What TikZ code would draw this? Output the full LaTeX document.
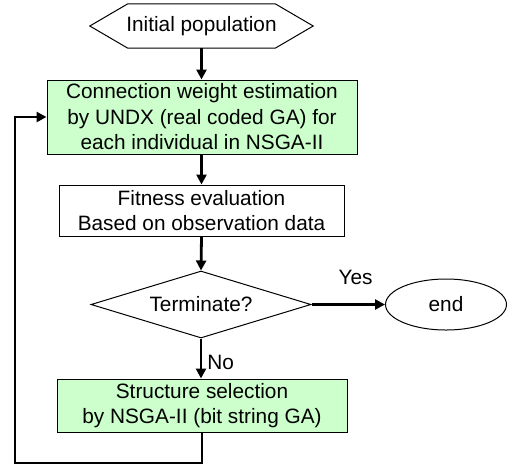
\documentclass[tikz,border=0pt]{standalone}
\usepackage{fontspec}
\setmainfont{Liberation Sans}
\usetikzlibrary{arrows.meta,shapes.geometric}
\definecolor{boxgreen}{HTML}{CCFFCC}
\begin{document}
\begin{tikzpicture}[x=1pt,y=-1pt,
  every node/.style={font=\fontsize{20.8}{25.5}\selectfont, inner sep=0pt, align=center},
  proc/.style={draw, line width=1pt, rectangle},
  greenbox/.style={proc, fill=boxgreen},
  flow/.style={line width=2.8pt, -{Triangle[length=10pt,width=10pt]}}]
\useasboundingbox (0,0) rectangle (508,467);
% nodes
\node (init) at (201.5,26) [minimum width=223pt, minimum height=44pt] {Initial population};
\draw[line width=1pt] (init.west) -- ([xshift=38pt]init.north west) -- ([xshift=-38pt]init.north east) -- (init.east) -- ([xshift=-38pt]init.south east) -- ([xshift=38pt]init.south west) -- cycle;
\node[greenbox, minimum width=310pt, minimum height=74pt] (cw) at (202,117) {Connection weight estimation\\by UNDX (real coded GA) for\\each individual in NSGA-II};
\node[proc, minimum width=285pt, minimum height=51pt] (fit) at (201.5,210.5) {Fitness evaluation\\Based on observation data};
\node[draw, line width=1pt, diamond, aspect=3.28, minimum width=220pt, minimum height=67pt, inner sep=0pt] (term) at (201,304.5) {Terminate?};
\node[draw, line width=1pt, ellipse, minimum width=121pt, minimum height=51pt] (end) at (446,304.5) {end};
\node[greenbox, minimum width=290pt, minimum height=53pt] (sel) at (202,405.5) {Structure selection\\by NSGA-II (bit string GA)};
% connectors
\draw[flow] (init.south) -- (init.south |- cw.north);
\draw[flow] (cw.south -| fit.north) -- (fit.north);
\draw[flow] (fit.south) -- (term.north);
\draw[flow] (term.east) -- (end.west) node[pos=0.6, above=18pt] {Yes};
\draw[flow] (term.south) -- (term.south |- sel.north) node[pos=0.6, right=5pt] {No};
\coordinate (c1) at (sel.south |- 0,463);
\coordinate (c2) at (15,463);
\draw[flow] (sel.south) -- (c1) -- (c2) -- (c2 |- cw.west) -- (cw.west);
\end{tikzpicture}
\end{document}
